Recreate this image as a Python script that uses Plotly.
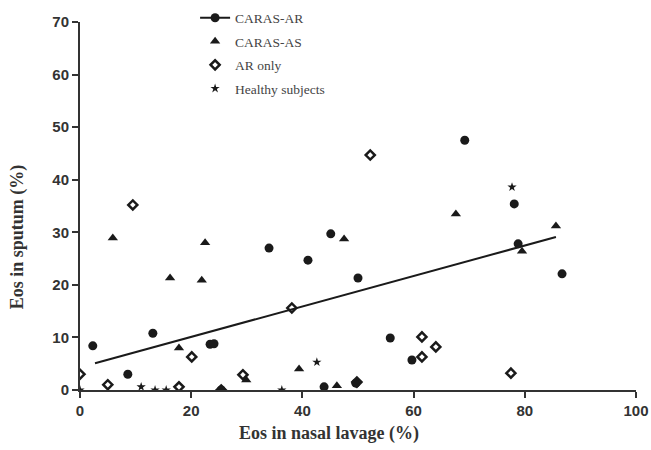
import plotly.graph_objects as go

# CARAS-AR (filled circles)
ar_x = [2.3, 8.6, 13.1, 23.4, 24.1, 25.4, 34.0, 41.0, 45.1, 50.0, 43.9, 49.6, 55.8, 59.7, 69.2, 78.1, 78.8, 86.7]
ar_y = [8.4, 3.0, 10.8, 8.7, 8.8, 0.0, 27.0, 24.7, 29.7, 21.3, 0.6, 1.3, 9.9, 5.7, 47.5, 35.4, 27.8, 22.1]

# CARAS-AS (filled triangles)
as_x = [5.9, 16.2, 17.8, 22.5, 21.9, 29.9, 39.4, 46.2, 47.5, 67.6, 79.5, 85.6]
as_y = [28.9, 21.3, 8.0, 28.0, 20.9, 1.9, 4.0, 0.8, 28.7, 33.5, 26.4, 31.2]

# AR only (open diamonds)
ao_x = [0.0, 5.0, 9.5, 17.8, 20.1, 29.3, 25.4, 38.1, 49.8, 52.2, 61.5, 61.5, 64.0, 77.5]
ao_y = [3.0, 1.0, 35.2, 0.6, 6.3, 2.9, 0.0, 15.6, 1.5, 44.7, 10.1, 6.3, 8.2, 3.2]

# Healthy subjects (stars)
hs_x = [0.0, 11.0, 13.5, 15.5, 36.3, 42.6, 77.7]
hs_y = [0.0, 0.6, 0.0, 0.0, 0.0, 5.3, 38.6]

# Regression line
fit_x = [2.7, 85.6]
fit_y = [5.1, 29.1]

x_ticks = [0, 20, 40, 60, 80, 100]
y_ticks = [0, 10, 20, 30, 40, 50, 60, 70]

ink = "#1a1a1a"
fig = go.Figure()

fig.add_trace(go.Scatter(x=fit_x, y=fit_y, mode="lines", line=dict(color=ink, width=2),
                         showlegend=False, hoverinfo="skip"))
fig.add_trace(go.Scatter(x=ar_x, y=ar_y, mode="markers", name="CARAS-AR",
                         marker=dict(symbol="circle", size=9, color=ink), showlegend=False))
# legend entry for CARAS-AR (line + marker)
fig.add_trace(go.Scatter(x=[None], y=[None], mode="lines+markers", name="CARAS-AR",
                         line=dict(color=ink, width=2), legendgroup="a",
                         marker=dict(symbol="circle", size=9, color=ink)))
fig.add_trace(go.Scatter(x=as_x, y=as_y, mode="markers", name="CARAS-AS", legendgroup="b",
                         marker=dict(symbol="triangle-up", size=9, color=ink)))
fig.add_trace(go.Scatter(x=ao_x, y=ao_y, mode="markers", name="AR only", legendgroup="c",
                         marker=dict(symbol="diamond-open", size=7, color=ink, line=dict(width=2.5, color=ink))))
fig.add_trace(go.Scatter(x=hs_x, y=hs_y, mode="markers", name="Healthy subjects", legendgroup="d",
                         marker=dict(symbol="star", size=7, color=ink)))

tick_font = dict(family="Liberation Sans, Arial", size=15, color="#333333", weight="bold")
title_font = dict(family="Liberation Serif, Times New Roman", size=18, color="#333333")

fig.update_layout(
    width=651, height=450,
    margin=dict(l=80, r=15, t=22, b=60, autoexpand=False),
    paper_bgcolor="white", plot_bgcolor="white",
    legend=dict(x=0.207, y=1.053, xanchor="left", yanchor="top",
                font=dict(family="Liberation Serif, Times New Roman", size=13.5, color="#444444"),
                tracegroupgap=3, bgcolor="rgba(0,0,0,0)"),
    xaxis=dict(range=[0, 100], tickvals=x_ticks, showgrid=False, zeroline=False,
               showline=True, linecolor="#333333", linewidth=2, ticks="outside",
               ticklen=6, tickwidth=2, tickcolor="#333333",
               tickfont=tick_font, automargin=False),
    yaxis=dict(range=[0, 70], tickvals=y_ticks, showgrid=False, zeroline=False,
               showline=True, linecolor="#333333", linewidth=2, ticks="outside",
               ticklen=6, tickwidth=2, tickcolor="#333333",
               tickfont=tick_font, automargin=False),
    annotations=[
        dict(text="<b>Eos in nasal lavage (%)</b>", xref="paper", yref="paper",
             x=0.448, y=-0.117, xanchor="center", yanchor="middle", showarrow=False, font=title_font),
        dict(text="<b>Eos in sputum (%)</b>", xref="paper", yref="paper",
             x=-0.111, y=0.416, xanchor="center", yanchor="middle", textangle=-90,
             showarrow=False, font=title_font),
    ],
)

fig.write_html("out.html")
